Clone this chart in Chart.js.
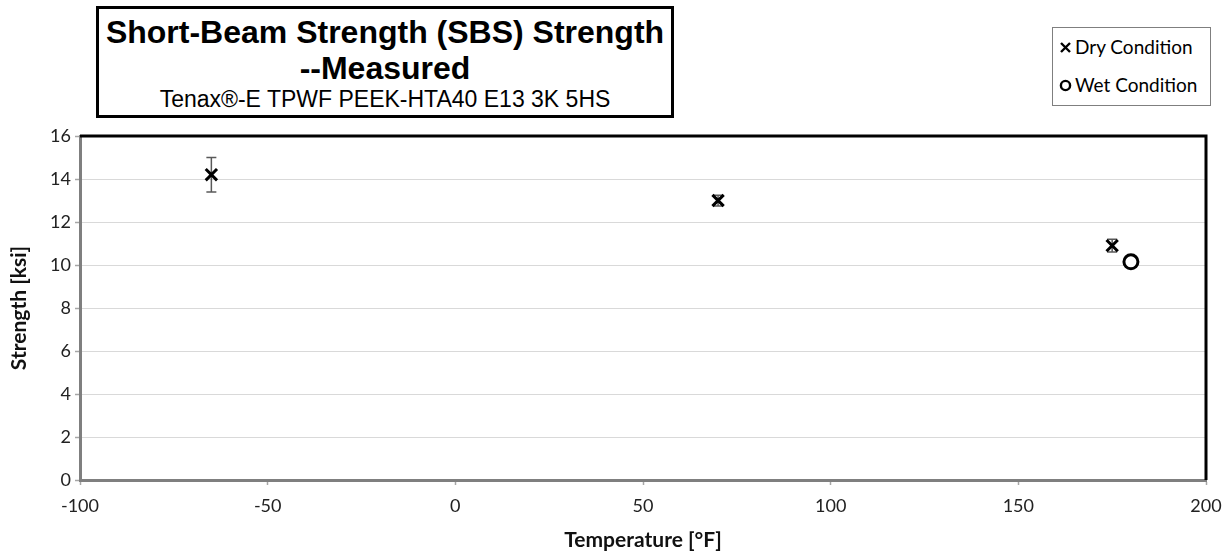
<!DOCTYPE html>
<html>
<head>
<meta charset="utf-8">
<script src="https://cdn.jsdelivr.net/npm/chart.js@4.4.1/dist/chart.umd.min.js"></script>
<style>
  html, body { margin: 0; padding: 0; background: #fff; }
  #wrap { position: relative; width: 1232px; height: 557px; }
  #chart { position: absolute; left: 0; top: 0; }
  #titleBox {
    position: absolute; left: 96px; top: 6px; width: 572px; height: 106px;
    border: 3px solid #000; background: #fff; text-align: center;
    font-family: "Liberation Sans", Arial, sans-serif; color: #000;
  }
  #titleBox .main { font-weight: bold; font-size: 32px; line-height: 36px; margin-top: 5px; }
  #titleBox .sub { font-size: 23px; line-height: 26px; margin-top: 0; }
  #legendBox {
    position: absolute; left: 1052px; top: 27px; width: 157px; height: 77px;
    border: 1px solid #7f7f7f; background: #fff;
    font-family: Lato, "Open Sans", sans-serif; font-size: 19px; color: #000;
  }
  #legendBox .row { position: absolute; left: 6px; height: 22px; line-height: 22px; white-space: nowrap; }
  #legendBox canvas { vertical-align: middle; margin-right: 3px; position: relative; top: -2px; }
</style>
</head>
<body>
<div id="wrap">
  <canvas id="chart" width="1232" height="557"></canvas>
  <div id="titleBox">
    <div class="main">Short-Beam Strength (SBS) Strength<br>--Measured</div>
    <div class="sub">Tenax®-E TPWF PEEK-HTA40 E13 3K 5HS</div>
  </div>
  <div id="legendBox">
    <div class="row" style="top:8px"><canvas id="lgDry" width="13" height="13"></canvas>Dry Condition</div>
    <div class="row" style="top:46px"><canvas id="lgWet" width="13" height="13"></canvas>Wet Condition</div>
  </div>
</div>
<script>
// Short-beam strength, dry and wet specimens, with scatter bands
const dryTemps = [-65, 70, 175];
const dryStrength = [14.2, 13.0, 10.9];
const dryError = [0.8, 0.25, 0.3];

const wetTemps = [180];
const wetStrength = [10.15];
const wetError = [0.1];

const xTicks = [-100, -50, 0, 50, 100, 150, 200];
const yTicks = [0, 2, 4, 6, 8, 10, 12, 14, 16];

const seriesLabels = ['Dry Condition', 'Wet Condition'];

const tickFont = { family: 'Lato, "Open Sans", sans-serif', size: 18 };
const titleFont = { family: 'Lato, "Open Sans", sans-serif', size: 21, weight: 'bold' };

function toPoints(xs, ys, errs) {
  return xs.map((x, i) => ({ x: x, y: ys[i], err: errs[i] }));
}

// Vertical error bars with end caps, drawn beneath the markers
const errorBars = {
  id: 'errorBars',
  beforeDatasetsDraw(chart) {
    const ctx = chart.ctx;
    const xs = chart.scales.x, ys = chart.scales.y;
    ctx.save();
    ctx.strokeStyle = '#595959';
    ctx.lineWidth = 1.5;
    chart.data.datasets.forEach(ds => {
      ds.data.forEach(p => {
        const px = xs.getPixelForValue(p.x);
        const top = ys.getPixelForValue(p.y + p.err);
        const bot = ys.getPixelForValue(p.y - p.err);
        ctx.beginPath();
        ctx.moveTo(px, top); ctx.lineTo(px, bot);
        ctx.moveTo(px - 5, top); ctx.lineTo(px + 5, top);
        ctx.moveTo(px - 5, bot); ctx.lineTo(px + 5, bot);
        ctx.stroke();
      });
    });
    ctx.restore();
  }
};

// Heavy black edges along the top and right of the plot area
const plotFrame = {
  id: 'plotFrame',
  afterDatasetsDraw(chart) {
    const { ctx, chartArea: a } = chart;
    ctx.save();
    ctx.strokeStyle = '#000';
    ctx.lineWidth = 3;
    ctx.beginPath();
    ctx.moveTo(a.left, a.top);
    ctx.lineTo(a.right, a.top);
    ctx.lineTo(a.right, a.bottom);
    ctx.stroke();
    ctx.restore();
  }
};

new Chart(document.getElementById('chart'), {
  type: 'scatter',
  data: {
    datasets: [
      {
        label: seriesLabels[0],
        data: toPoints(dryTemps, dryStrength, dryError),
        pointStyle: 'crossRot',
        pointRadius: 8,
        pointBorderWidth: 3,
        borderColor: '#000',
        backgroundColor: '#000'
      },
      {
        label: seriesLabels[1],
        data: toPoints(wetTemps, wetStrength, wetError),
        pointStyle: 'circle',
        pointRadius: 7,
        pointBorderWidth: 3,
        borderColor: '#000',
        backgroundColor: '#fff'
      }
    ]
  },
  options: {
    responsive: false,
    animation: false,
    layout: { padding: { left: 0, right: 26, top: 136, bottom: 0 } },
    plugins: {
      legend: { display: false },
      title: { display: false },
      tooltip: { enabled: false }
    },
    scales: {
      x: {
        type: 'linear',
        min: xTicks[0],
        max: xTicks[xTicks.length - 1],
        afterBuildTicks: s => { s.ticks = xTicks.map(v => ({ value: v })); },
        afterFit: s => { s.height = 77; },
        grid: { drawOnChartArea: false, tickLength: 5, tickColor: '#a6a6a6', tickWidth: 1.5 },
        border: { color: '#7f7f7f', width: 3 },
        ticks: { color: '#222', font: tickFont, padding: 10, maxRotation: 0 },
        title: { display: true, text: 'Temperature [°F]', color: '#111', font: titleFont, padding: { top: 4, bottom: 4 } }
      },
      y: {
        type: 'linear',
        min: yTicks[0],
        max: yTicks[yTicks.length - 1],
        afterBuildTicks: s => { s.ticks = yTicks.map(v => ({ value: v })); },
        afterFit: s => { s.width = 80; },
        grid: { color: '#d9d9d9', lineWidth: 1, tickLength: 5, tickColor: '#a6a6a6', tickWidth: 1.5 },
        border: { color: '#7f7f7f', width: 3 },
        ticks: { color: '#222', font: tickFont, padding: 4 },
        title: { display: true, text: 'Strength [ksi]', color: '#111', font: titleFont, padding: { top: 7, bottom: 4 } }
      }
    }
  },
  plugins: [errorBars, plotFrame]
});

// Legend swatches
(function () {
  const d = document.getElementById('lgDry').getContext('2d');
  d.strokeStyle = '#000'; d.lineWidth = 2.4;
  d.beginPath(); d.moveTo(2, 2); d.lineTo(11, 11); d.moveTo(11, 2); d.lineTo(2, 11); d.stroke();
  const w = document.getElementById('lgWet').getContext('2d');
  w.strokeStyle = '#000'; w.lineWidth = 2.4;
  w.beginPath(); w.arc(6.5, 6.5, 4.6, 0, Math.PI * 2); w.stroke();
})();
</script>
</body>
</html>
